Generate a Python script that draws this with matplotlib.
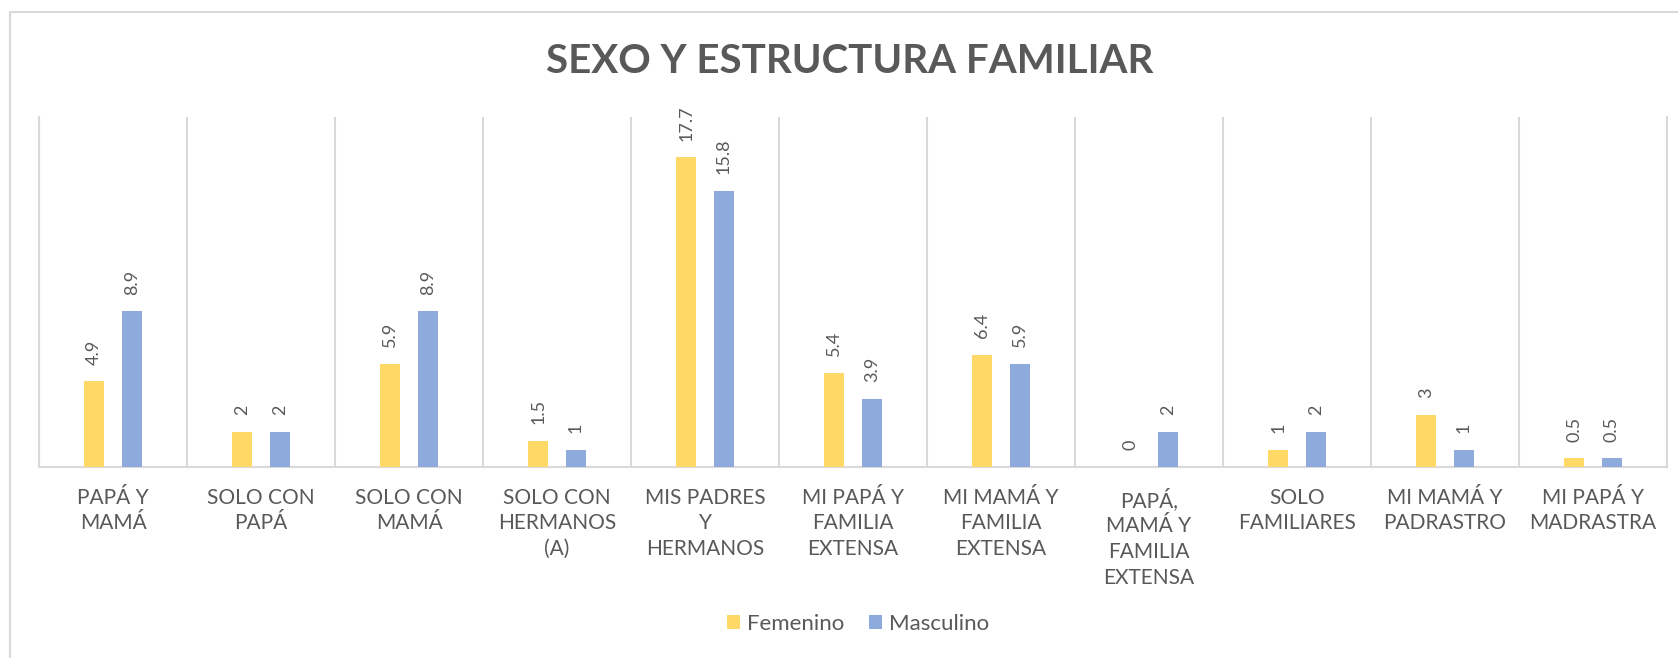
import matplotlib
matplotlib.use('Agg')
import matplotlib.pyplot as plt
from matplotlib.lines import Line2D
import numpy as np

plt.rcParams['font.family'] = ['Lato', 'DejaVu Sans']

categories = ['PAPÁ Y\nMAMÁ', 'SOLO CON\nPAPÁ', 'SOLO CON\nMAMÁ', 'SOLO CON\nHERMANOS\n(A)',
              'MIS PADRES\nY\nHERMANOS', 'MI PAPÁ Y\nFAMILIA\nEXTENSA', 'MI MAMÁ Y\nFAMILIA\nEXTENSA',
              'PAPÁ,\nMAMÁ Y\nFAMILIA\nEXTENSA', 'SOLO\nFAMILIARES', 'MI MAMÁ Y\nPADRASTRO',
              'MI PAPÁ Y\nMADRASTRA']
femenino = [4.9, 2, 5.9, 1.5, 17.7, 5.4, 6.4, 0, 1, 3, 0.5]
masculino = [8.9, 2, 8.9, 1, 15.8, 3.9, 5.9, 2, 2, 1, 0.5]
series_names = ['Femenino', 'Masculino']

c_fem = '#FFD966'
c_mas = '#8EA9DB'
grid_c = '#D9D9D9'
text_c = '#595959'

W, H = 1678, 658
fig = plt.figure(figsize=(W / 100, H / 100), dpi=100)
ax = fig.add_axes([39 / W, 1 - 467 / H, (1667 - 39) / W, (467 - 117) / H])

x = np.arange(len(categories))
off, bw = 0.128, 0.135
b1 = ax.bar(x - off, femenino, bw, color=c_fem, label=series_names[0], zorder=3)
b2 = ax.bar(x + off, masculino, bw, color=c_mas, label=series_names[1], zorder=3)

for bars, vals in [(b1, femenino), (b2, masculino)]:
    for r, v in zip(bars, vals):
        ax.annotate(f'{v:g}', xy=(r.get_x() + r.get_width() / 2, v), xytext=(0, 12),
                    textcoords='offset points', rotation=90, ha='center', va='bottom',
                    fontsize=13, color=text_c)

ax.set_xlim(-0.5, len(categories) - 0.5)
ax.set_ylim(0, 20)
ax.set_yticks([])
ax.set_xticks(x)
ax.set_xticklabels(categories, fontsize=15, color=text_c, linespacing=1.35)
ax.set_xticks(np.arange(-0.5, len(categories)), minor=True)
ax.tick_params(axis='x', which='both', length=0, pad=15)
ax.grid(axis='x', which='minor', color=grid_c, lw=1.5)
ax.grid(axis='x', which='major', visible=False)
ax.spines['top'].set_visible(False)
for s in ['left', 'right', 'bottom']:
    ax.spines[s].set_color(grid_c)
    ax.spines[s].set_linewidth(1.5)

# chart border (runs off the right and bottom edges)
fig.add_artist(Line2D([10 / W, 10 / W, 1.0], [0.0, 1 - 12 / H, 1 - 12 / H],
                      transform=fig.transFigure, color=grid_c, lw=1.5))

fig.text(850 / W, 1 - 73 / H, 'SEXO Y ESTRUCTURA FAMILIAR', ha='center', va='baseline',
         fontsize=29, fontweight='bold', color=text_c)

fig.legend(handles=[b1, b2], loc='center', bbox_to_anchor=(858 / W, 1 - 624 / H), ncol=2,
           frameon=False, fontsize=16, handlelength=0.6, handleheight=0.6,
           handletextpad=0.3, columnspacing=1.1, labelcolor=text_c)

plt.savefig('out.png', dpi=100)
plt.close()
